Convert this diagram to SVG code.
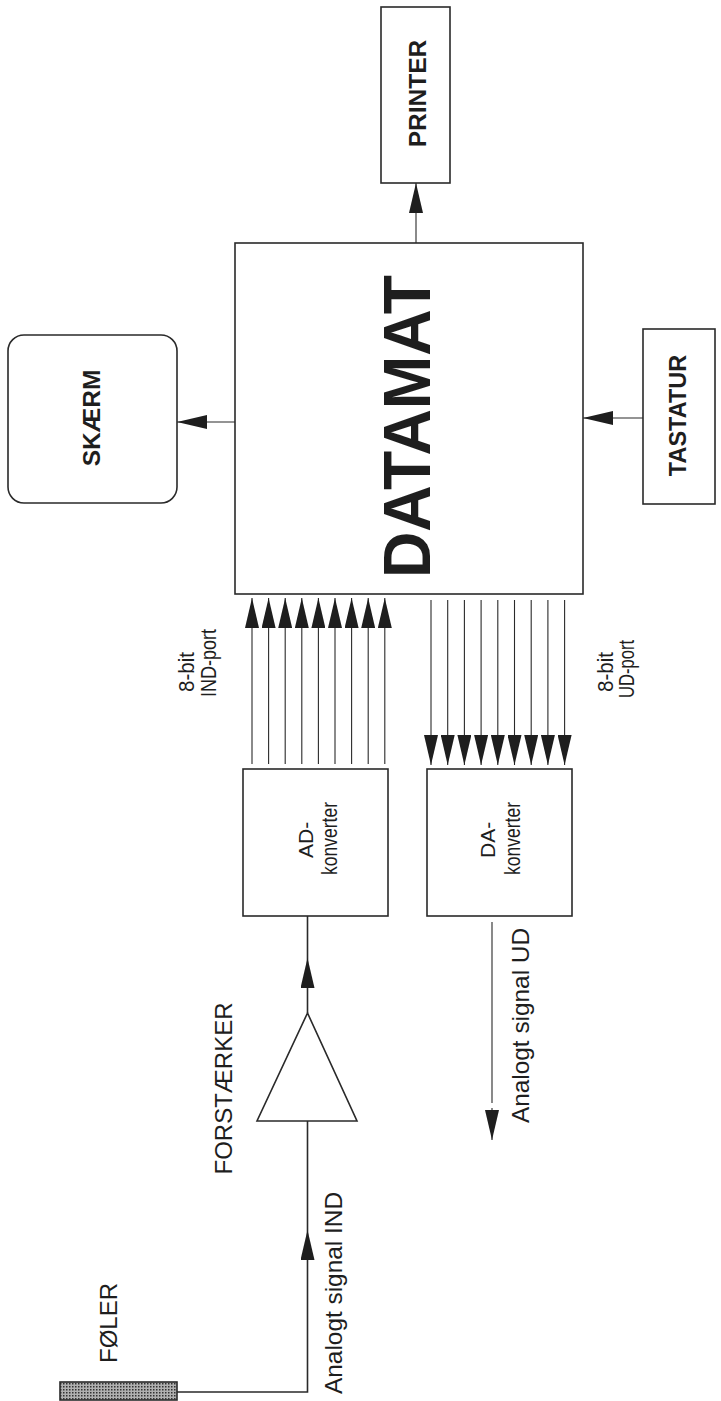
<svg xmlns="http://www.w3.org/2000/svg" width="721" height="1401" viewBox="0 0 721 1401">
<style>
.box{fill:#fff;stroke:#2a2a2a;stroke-width:1.6}
.ln{fill:none;stroke:#2a2a2a;stroke-width:1.1}
.lnb{fill:none;stroke:#2a2a2a;stroke-width:1.6}
.t{font-family:"Liberation Sans",Arial,sans-serif;fill:#1e1e1e}
.b{font-weight:bold}
</style>
<defs>
<marker id="ah" viewBox="0 0 30 14" refX="30" refY="7" markerWidth="30" markerHeight="14" markerUnits="userSpaceOnUse" orient="auto">
<path d="M0,0 L30,7 L0,14 z" fill="#1e1e1e"/>
</marker>
<pattern id="dots" width="3" height="3" patternUnits="userSpaceOnUse">
<rect width="3" height="3" fill="#b0b0b0"/>
<rect width="1.5" height="1.5" fill="#333"/>
</pattern>
</defs>
<rect width="721" height="1401" fill="#fff"/>

<g id="connectors">
<line class="ln" x1="416" y1="243" x2="416" y2="183" marker-end="url(#ah)"/>
<line class="ln" x1="235" y1="422" x2="177" y2="422" marker-end="url(#ah)"/>
<line class="ln" x1="643" y1="418" x2="583" y2="418" marker-end="url(#ah)"/>
<g id="ind-bus">
<line class="ln" x1="252" y1="764" x2="252" y2="598" marker-end="url(#ah)"/>
<line class="ln" x1="268.6" y1="764" x2="268.6" y2="598" marker-end="url(#ah)"/>
<line class="ln" x1="285.2" y1="764" x2="285.2" y2="598" marker-end="url(#ah)"/>
<line class="ln" x1="301.8" y1="764" x2="301.8" y2="598" marker-end="url(#ah)"/>
<line class="ln" x1="318.4" y1="764" x2="318.4" y2="598" marker-end="url(#ah)"/>
<line class="ln" x1="335" y1="764" x2="335" y2="598" marker-end="url(#ah)"/>
<line class="ln" x1="351.6" y1="764" x2="351.6" y2="598" marker-end="url(#ah)"/>
<line class="ln" x1="368.2" y1="764" x2="368.2" y2="598" marker-end="url(#ah)"/>
<line class="ln" x1="384.8" y1="764" x2="384.8" y2="598" marker-end="url(#ah)"/>
</g>
<g id="ud-bus">
<line class="ln" x1="431" y1="600" x2="431" y2="765" marker-end="url(#ah)"/>
<line class="ln" x1="447.7" y1="600" x2="447.7" y2="765" marker-end="url(#ah)"/>
<line class="ln" x1="464.4" y1="600" x2="464.4" y2="765" marker-end="url(#ah)"/>
<line class="ln" x1="481.1" y1="600" x2="481.1" y2="765" marker-end="url(#ah)"/>
<line class="ln" x1="497.8" y1="600" x2="497.8" y2="765" marker-end="url(#ah)"/>
<line class="ln" x1="514.5" y1="600" x2="514.5" y2="765" marker-end="url(#ah)"/>
<line class="ln" x1="531.2" y1="600" x2="531.2" y2="765" marker-end="url(#ah)"/>
<line class="ln" x1="547.9" y1="600" x2="547.9" y2="765" marker-end="url(#ah)"/>
<line class="ln" x1="564.6" y1="600" x2="564.6" y2="765" marker-end="url(#ah)"/>
</g>
<line class="lnb" x1="307.5" y1="1013" x2="307.5" y2="958" marker-end="url(#ah)"/>
<line class="lnb" x1="307.5" y1="958" x2="307.5" y2="916"/>
<path class="lnb" d="M177,1392 H307.5 V1230" marker-end="url(#ah)"/>
<line class="lnb" x1="307.5" y1="1230" x2="307.5" y2="1121"/>
<path class="ln" d="M492,922 V1103 M492,1108 V1140" marker-end="url(#ah)"/>
</g>

<g id="datamat">
<rect class="box" x="235" y="243" width="348" height="351"/>
<text class="t b" transform="translate(430,426.5) rotate(-90)" text-anchor="middle" font-size="67" textLength="303" lengthAdjust="spacingAndGlyphs">DATAMAT</text>
</g>
<g id="printer">
<rect class="box" x="381" y="7" width="69" height="176"/>
<text class="t b" transform="translate(426,93.5) rotate(-90)" text-anchor="middle" font-size="24.5">PRINTER</text>
</g>
<g id="skaerm">
<rect class="box" x="8" y="335" width="169" height="168" rx="16" ry="16"/>
<text class="t b" transform="translate(100,418) rotate(-90)" text-anchor="middle" font-size="24.5">SKÆRM</text>
</g>
<g id="tastatur">
<rect class="box" x="643" y="329" width="72" height="175"/>
<text class="t b" transform="translate(686,415.5) rotate(-90)" text-anchor="middle" font-size="23.5">TASTATUR</text>
</g>
<g id="ind-port-label">
<text class="t" transform="translate(194,692) rotate(-90)" font-size="22" textLength="40" lengthAdjust="spacingAndGlyphs">8-bit</text>
<text class="t" transform="translate(216,697) rotate(-90)" font-size="22" textLength="68" lengthAdjust="spacingAndGlyphs">IND-port</text>
</g>
<g id="ud-port-label">
<text class="t" transform="translate(613,692) rotate(-90)" font-size="22" textLength="40" lengthAdjust="spacingAndGlyphs">8-bit</text>
<text class="t" transform="translate(634,698) rotate(-90)" font-size="22" textLength="58" lengthAdjust="spacingAndGlyphs">UD-port</text>
</g>
<g id="ad-konverter">
<rect class="box" x="243" y="769" width="145" height="147"/>
<text class="t" transform="translate(313,858) rotate(-90)" font-size="21">AD-</text>
<text class="t" transform="translate(337,838.5) rotate(-90)" text-anchor="middle" font-size="21.5" textLength="73" lengthAdjust="spacingAndGlyphs">konverter</text>
</g>
<g id="da-konverter">
<rect class="box" x="427" y="769" width="145" height="147"/>
<text class="t" transform="translate(495,858) rotate(-90)" font-size="21">DA-</text>
<text class="t" transform="translate(520,838.5) rotate(-90)" text-anchor="middle" font-size="21.5" textLength="73" lengthAdjust="spacingAndGlyphs">konverter</text>
</g>
<g id="forstaerker">
<polygon class="lnb" points="307.5,1013 257,1121 357,1121" fill="#fff"/>
<text class="t" transform="translate(232,1088.5) rotate(-90)" text-anchor="middle" font-size="24">FORSTÆRKER</text>
</g>
<g id="foler">
<rect x="60" y="1382" width="117" height="18" fill="url(#dots)" stroke="#2a2a2a" stroke-width="1.6"/>
<text class="t" transform="translate(117,1323) rotate(-90)" text-anchor="middle" font-size="24">FØLER</text>
</g>
<g id="labels">
<text class="t" transform="translate(342,1394) rotate(-90)" font-size="24" textLength="202" lengthAdjust="spacingAndGlyphs">Analogt signal IND</text>
<text class="t" transform="translate(529,1123) rotate(-90)" font-size="24" textLength="195" lengthAdjust="spacingAndGlyphs">Analogt signal UD</text>
</g>
</svg>
